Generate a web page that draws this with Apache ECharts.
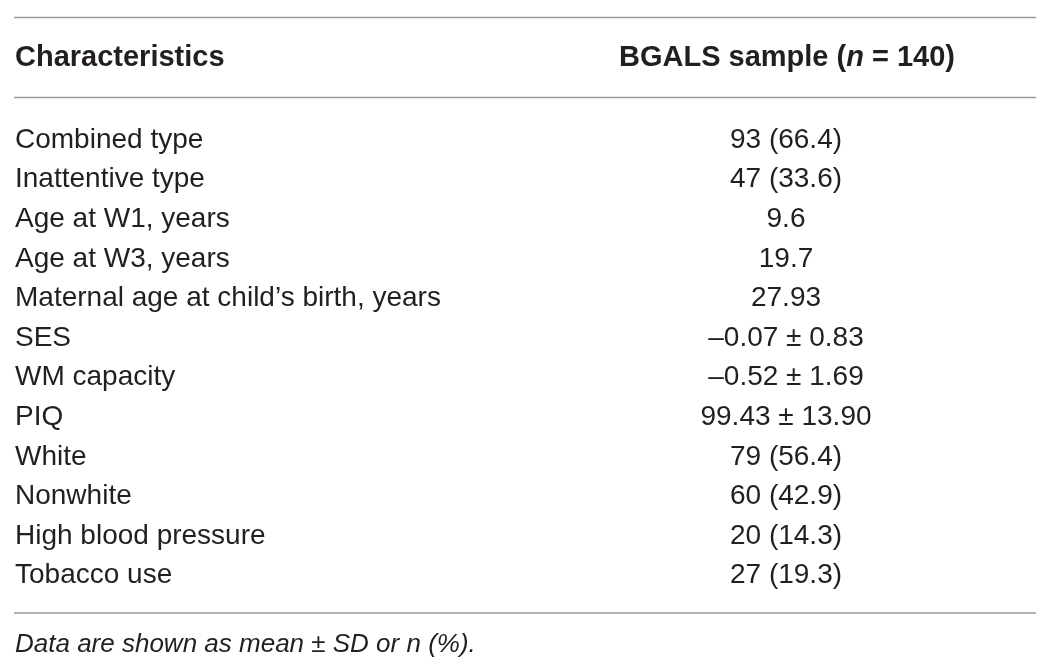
<!DOCTYPE html>
<html>
<head>
<meta charset="utf-8">
<script src="https://cdn.jsdelivr.net/npm/echarts@6/dist/echarts.min.js"></script>
<style>
  html, body { margin: 0; padding: 0; background: #fff; }
  #main { width: 1050px; height: 672px; }
</style>
</head>
<body>
<div id="main"></div>
<script>
// table rows, top to bottom
var characteristics = [
  'Combined type',
  'Inattentive type',
  'Age at W1, years',
  'Age at W3, years',
  'Maternal age at child\u2019s birth, years',
  'SES',
  'WM capacity',
  'PIQ',
  'White',
  'Nonwhite',
  'High blood pressure',
  'Tobacco use'
];
var sampleValues = [
  '93 (66.4)',
  '47 (33.6)',
  '9.6',
  '19.7',
  '27.93',
  '\u20130.07 \u00b1 0.83',
  '\u20130.52 \u00b1 1.69',
  '99.43 \u00b1 13.90',
  '79 (56.4)',
  '60 (42.9)',
  '20 (14.3)',
  '27 (19.3)'
];
var columnHeaders = ['Characteristics', 'BGALS sample'];
var sampleSize = 140;
var footnote = 'Data are shown as mean \u00b1 SD or n (%).';

var font = '"Liberation Sans", Arial, sans-serif';
var ink = '#231f20';
var rule = '#9a9a9a';

var chart = echarts.init(document.getElementById('main'));

var option = {
  backgroundColor: '#fff',
  animation: false,
  grid: {
    left: 536, right: 14, top: 120.2, bottom: 76.6,
    containLabel: false,
    outerBoundsMode: 'none'
  },
  xAxis: {
    type: 'value', min: 0, max: 1,
    show: false
  },
  yAxis: {
    type: 'category',
    inverse: true,
    data: characteristics,
    axisLine: { show: false },
    axisTick: { show: false },
    splitLine: { show: false },
    axisLabel: {
      align: 'left',
      margin: 521,
      color: ink,
      fontFamily: font,
      fontSize: 28
    }
  },
  series: [{
    type: 'scatter',
    symbolSize: 0,
    itemStyle: { opacity: 1 },
    data: sampleValues.map(function (v, i) { return [0.5, i]; }),
    label: {
      show: true,
      position: 'inside',
      color: ink,
      opacity: 1,
      fontFamily: font,
      fontSize: 28,
      formatter: function (p) { return sampleValues[p.dataIndex]; }
    }
  }],
  graphic: [
    { type: 'line', shape: { x1: 14, y1: 17.5, x2: 1036, y2: 17.5 }, style: { stroke: rule, lineWidth: 1.5 } },
    { type: 'line', shape: { x1: 14, y1: 97.5, x2: 1036, y2: 97.5 }, style: { stroke: rule, lineWidth: 1.5 } },
    { type: 'line', shape: { x1: 14, y1: 613, x2: 1036, y2: 613 }, style: { stroke: rule, lineWidth: 1.5 } },
    {
      type: 'text', x: 15, y: 58,
      style: { text: columnHeaders[0], fill: ink, verticalAlign: 'middle', font: 'bold 29px ' + font }
    },
    {
      type: 'text', x: 787, y: 58,
      style: {
        text: '{b|' + columnHeaders[1] + ' (}{i|n}{b| = ' + sampleSize + ')}',
        align: 'center', verticalAlign: 'middle',
        rich: {
          b: { fill: ink, fontFamily: font, fontWeight: 'bold', fontSize: 29 },
          i: { fill: ink, fontFamily: font, fontWeight: 'bold', fontStyle: 'italic', fontSize: 29 }
        }
      }
    },
    {
      type: 'text', x: 15, y: 645,
      style: {
        text: footnote, fill: ink, verticalAlign: 'middle',
        font: 'italic 26px ' + font
      }
    }
  ]
};

chart.setOption(option);
</script>
</body>
</html>
